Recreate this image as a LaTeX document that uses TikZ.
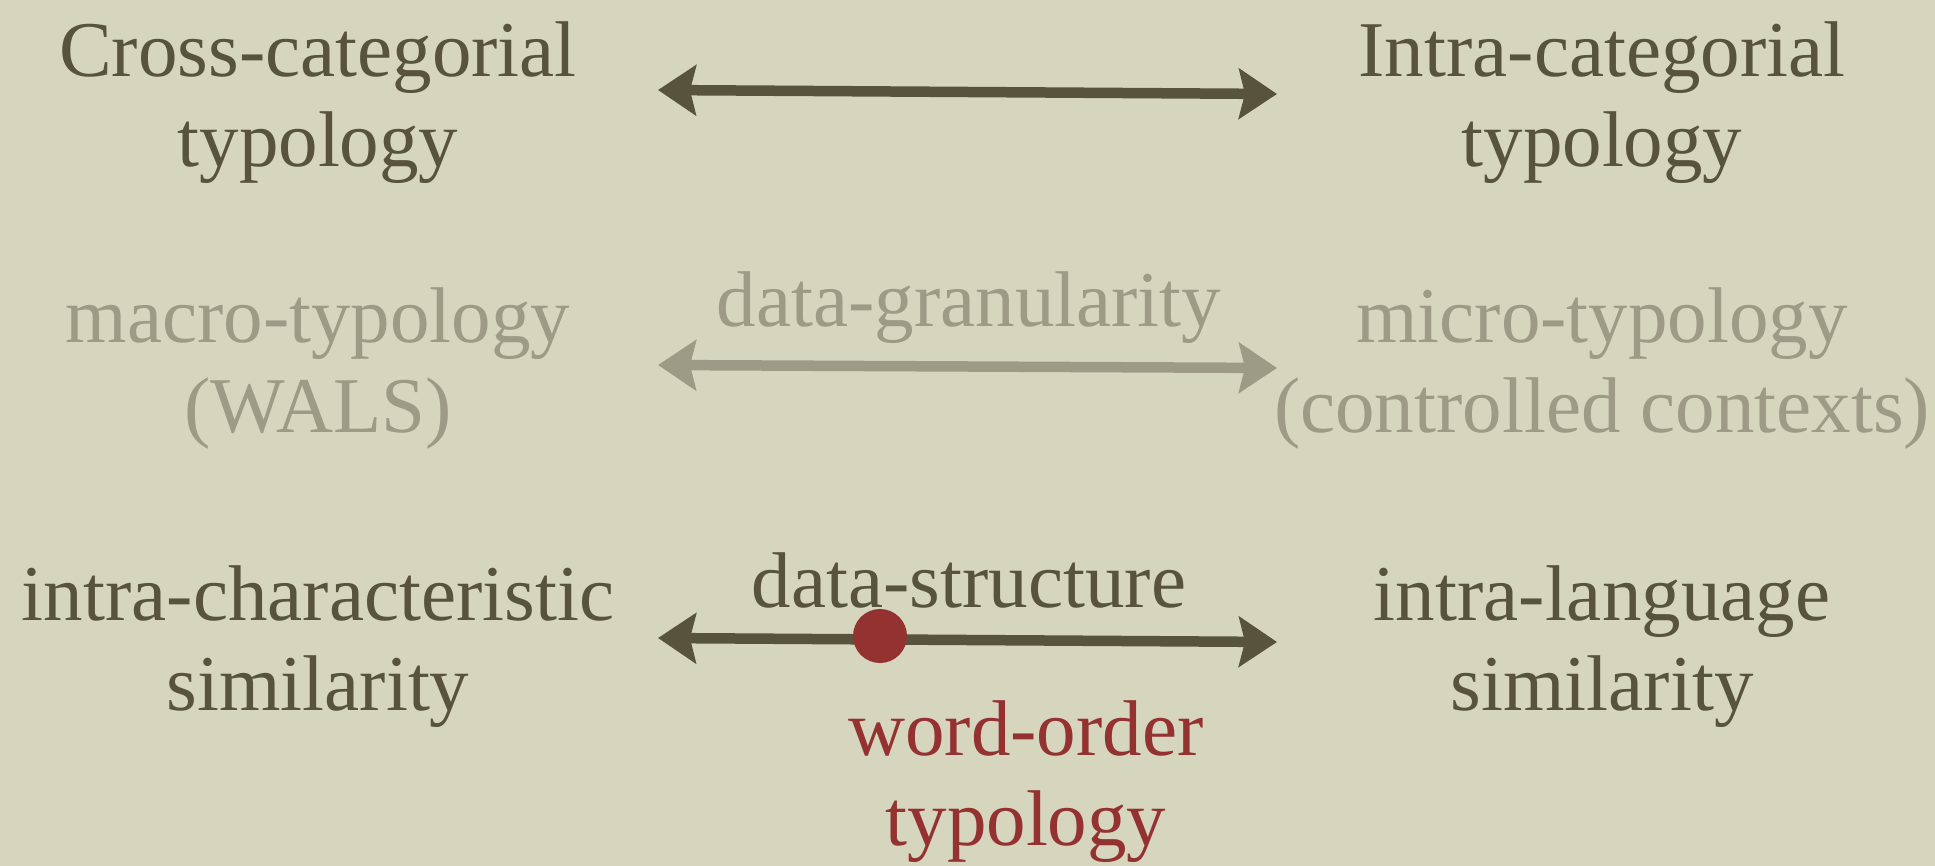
\documentclass[tikz,border=0pt]{standalone}
\usepackage{fontspec}
\setmainfont{Liberation Serif}
\usetikzlibrary{arrows.meta}
\definecolor{paper}{RGB}{214,213,190}
\definecolor{ink}{RGB}{88,83,60}
\definecolor{faded}{RGB}{157,155,134}
\definecolor{wine}{RGB}{148,50,50}
\tikzset{
  lbl/.style={inner sep=0pt, align=center, anchor=base, font=\fontsize{79}{90}\selectfont},
  darklbl/.style={lbl, text=ink},
  fadedlbl/.style={lbl, text=faded},
  redlbl/.style={lbl, text=wine},
  dbl/.style={line width=10.5pt, {Stealth[length=38pt,width=50pt,inset=6pt]}-{Stealth[length=38pt,width=50pt,inset=6pt]}},
}
\begin{document}
\begin{tikzpicture}[x=1pt,y=-1pt]
\fill[paper] (0,0) rectangle (1935,866);
\useasboundingbox (0,0) rectangle (1935,866);
% row 1 (base = baseline of last line)
\node[darklbl] (cross) at (318,167) {Cross-categorial\\typology};
\node[darklbl] (intra) at (1602,167) {Intra-categorial\\typology};
\coordinate (a1l) at (658,90);
\coordinate (a1r) at (1277,94);
\draw[dbl, ink] (a1l) -- (a1r);
% row 2
\node[fadedlbl] (macro) at (318,432) {macro-typology\\(WALS)};
\node[fadedlbl] (micro) at (1602,432) {micro-typology\\(controlled contexts)};
\node[fadedlbl] (gran) at (969,327) {data-granularity};
\coordinate (a2l) at (658,365);
\coordinate (a2r) at (1277,368);
\draw[dbl, faded] (a2l) -- (a2r);
% row 3
\node[darklbl] (ichar) at (318,710) {intra-characteristic\\similarity};
\node[darklbl] (ilang) at (1602,710) {intra-language\\similarity};
\node[darklbl] (struct) at (969,607) {data-structure};
\coordinate (a3l) at (658,638);
\coordinate (a3r) at (1277,642);
\draw[dbl, ink] (a3l) -- (a3r);
\node[circle, fill=wine, minimum size=54pt, inner sep=0pt] (dot) at (880,636) {};
\node[redlbl] (wo) at (1026,845) {word-order\\typology};
\end{tikzpicture}
\end{document}
